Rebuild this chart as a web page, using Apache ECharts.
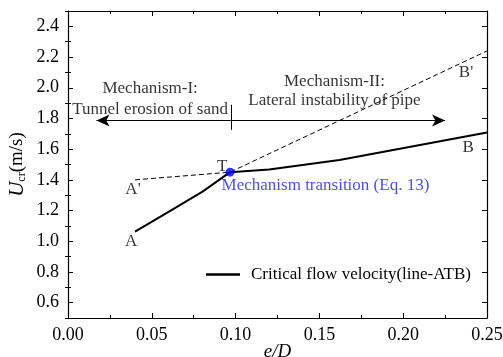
<!DOCTYPE html>
<html lang="en">
<head>
    <meta charset="UTF-8">
    <title>Critical flow velocity</title>
    <script src="https://cdn.jsdelivr.net/npm/echarts@6/dist/echarts.min.js"></script>
    <style>
        body { margin: 0; background: #fff; }
        #main { width: 503px; height: 357px; }
    </style>
</head>
<body>
    <div id="main"></div>
    <script>
        // critical flow velocity, line A-T-B
        const criticalX = [0.040, 0.061, 0.0805, 0.0967, 0.12, 0.162, 0.25]
        const criticalY = [1.063, 1.198, 1.325, 1.45, 1.468, 1.53, 1.709]
        // dashed extension lines A'-T-B'
        const dashedX = [0.040, 0.0967, 0.25]
        const dashedY = [1.40, 1.45, 2.24]
        const transition = [0.0967, 1.45]
        const xTicks = ['0.00', '0.05', '0.10', '0.15', '0.20', '0.25']
        const yMajor = [0.6, 0.8, 1.0, 1.2, 1.4, 1.6, 1.8, 2.0, 2.2, 2.4]
        const yMinor = [0.5, 0.7, 0.9, 1.1, 1.3, 1.5, 1.7, 1.9, 2.1, 2.3, 2.5]

        // annotation texts [x, y, text]
        const pointLabels = [
            [0.092, 1.488, 'T'],
            [0.0388, 1.335, "A'"],
            [0.0376, 0.996, 'A'],
            [0.2387, 1.609, 'B'],
            [0.2375, 2.098, "B'"]
        ]
        const mechTexts = [
            [0.049, 1.994, 'Mechanism-I:'],
            [0.049, 1.857, 'Tunnel erosion of sand'],
            [0.159, 2.04, 'Mechanism-II:'],
            [0.159, 1.915, 'Lateral instability of pipe']
        ]
        const arrowY = 1.787
        const arrowLeftEnd = 0.017
        const arrowRightEnd = 0.225

        const font = 'Liberation Serif'
        let chart = echarts.init(document.getElementById('main'))

        const line = { show: true, onZero: false, lineStyle: { color: '#000', width: 1.2 } }
        const noLine = { show: false }

        function xAxis (pos, showLabel) {
            return {
                type: 'value', min: 0, max: 0.25, interval: 0.05, position: pos,
                axisLine: line,
                axisTick: { show: true, inside: true, length: 5, lineStyle: { color: '#000' } },
                minorTick: { show: true, splitNumber: 2, length: 3, lineStyle: { color: '#000' } },
                splitLine: { show: false },
                axisLabel: {
                    show: showLabel, color: '#000', fontFamily: font, fontSize: 18, margin: 8,
                    formatter: v => xTicks[Math.round(v / 0.05)]
                }
            }
        }

        function yAxis (pos, major, showLabel) {
            return {
                type: 'value', min: 0.5, max: 2.5, interval: 0.1, position: pos,
                axisLine: major ? line : noLine,
                axisTick: {
                    show: true, inside: true, length: major ? 5 : 3,
                    customValues: major ? yMajor : yMinor,
                    lineStyle: { color: '#000' }
                },
                splitLine: { show: false },
                axisLabel: {
                    show: showLabel, color: '#000', fontFamily: font, fontSize: 18, margin: 9,
                    customValues: yMajor,
                    formatter: v => v.toFixed(1)
                }
            }
        }

        let xBottom = xAxis('bottom', true)
        xBottom.name = 'e/D'
        xBottom.nameLocation = 'middle'
        xBottom.nameGap = 24
        xBottom.nameMoveOverlap = false
        xBottom.nameTextStyle = { fontFamily: font, fontSize: 19, fontStyle: 'italic', color: '#000' }

        let yLeft = yAxis('left', true, true)
        yLeft.name = '{i|U}{s|cr}{n|(m/s)}'
        yLeft.nameLocation = 'middle'
        yLeft.nameGap = 40
        yLeft.nameMoveOverlap = false
        yLeft.nameRotate = 90
        yLeft.nameTextStyle = {
            color: '#000',
            rich: {
                i: { fontFamily: font, fontSize: 21, fontStyle: 'italic', color: '#000' },
                s: { fontFamily: font, fontSize: 12, color: '#000', verticalAlign: 'bottom', padding: [10, 0, 0, 0] },
                n: { fontFamily: font, fontSize: 19, color: '#000' }
            }
        }

        let option = {
            animation: false,
            grid: { left: 68, right: 16, top: 11, bottom: 39, outerBoundsMode: 'none', containLabel: false },
            legend: {
                left: 201,
                top: 261,
                itemWidth: 34,
                itemHeight: 2.5,
                itemGap: 10,
                textStyle: { fontFamily: font, fontSize: 17, color: '#000', padding: [0, 0, 0, 6] },
                data: [{ name: 'Critical flow velocity(line-ATB)', icon: 'rect' }]
            },
            xAxis: [xBottom, xAxis('top', false)],
            yAxis: [yLeft, yAxis('left', false, false), yAxis('right', true, false), yAxis('right', false, false)],
            series: [
                {
                    name: 'dashed',
                    type: 'line',
                    data: dashedX.map((x, i) => [x, dashedY[i]]),
                    symbol: 'none',
                    lineStyle: { color: '#000', width: 1, type: [5, 3] },
                    z: 2
                },
                {
                    name: 'Critical flow velocity(line-ATB)',
                    type: 'line',
                    data: criticalX.map((x, i) => [x, criticalY[i]]),
                    symbol: 'none',
                    lineStyle: { color: '#000', width: 2 },
                    itemStyle: { color: '#000' },
                    z: 3,
                    markLine: {
                        silent: true,
                        symbol: ['none', 'arrow'],
                        symbolSize: [9, 13],
                        label: { show: false },
                        lineStyle: { color: '#000', width: 1, type: 'solid' },
                        data: [
                            [{ coord: [transition[0] + 0.0005, arrowY] }, { coord: [arrowLeftEnd, arrowY] }],
                            [{ coord: [transition[0] + 0.0005, arrowY] }, { coord: [arrowRightEnd, arrowY] }],
                            [{ coord: [transition[0] + 0.0005, 1.726], symbol: 'none' }, { coord: [transition[0] + 0.0005, 1.889], symbol: 'none' }]
                        ]
                    }
                },
                {
                    name: 'transition',
                    type: 'scatter',
                    data: [transition],
                    symbolSize: 9,
                    itemStyle: { color: '#0000ff' },
                    label: {
                        show: true,
                        position: [-4, 18],
                        align: 'left',
                        verticalAlign: 'middle',
                        formatter: 'Mechanism transition (Eq. 13)',
                        fontFamily: font,
                        fontSize: 17,
                        color: '#1a1aff'
                    },
                    z: 5
                },
                {
                    name: 'labels',
                    type: 'scatter',
                    data: pointLabels.concat(mechTexts),
                    symbolSize: 0,
                    itemStyle: { color: 'transparent' },
                    label: {
                        show: true,
                        position: 'inside',
                        align: 'center',
                        verticalAlign: 'middle',
                        formatter: p => p.data[2],
                        fontFamily: font,
                        fontSize: 17,
                        color: '#000'
                    },
                    z: 4
                }
            ]
        }

        chart.setOption(option)
    </script>
</body>
</html>
